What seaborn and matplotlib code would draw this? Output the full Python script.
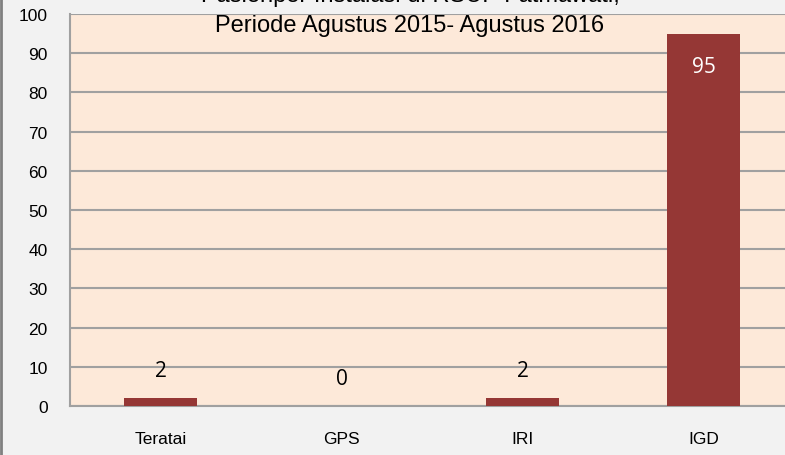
import matplotlib
matplotlib.use("Agg")
import matplotlib.pyplot as plt
import seaborn as sns
import pandas as pd

categories = ["Teratai", "GPS", "IRI", "IGD"]
values = [2, 0, 2, 95]
title_lines = ["Pasienper Instalasi di RSUP Fatmawati,", "Periode Agustus 2015- Agustus 2016"]
yticks = list(range(0, 101, 10))

sns.set_theme(style="white")
plt.rcParams['font.family'] = ['Liberation Sans', 'DejaVu Sans']

df = pd.DataFrame({"cat": categories, "val": values})

fig = plt.figure(figsize=(7.85, 4.56), dpi=100, facecolor="#f2f2f2")
ax = fig.add_axes([70/785, 49/456, 1 - 70/785, 392/456])
ax.set_facecolor("#fde9d9")
sns.barplot(data=df, x="cat", y="val", color="#953735", width=0.40, ax=ax,
            zorder=3, saturation=1, linewidth=0, edgecolor="none")
ax.set_xlim(-0.5, 3.45)
ax.set_ylim(0, 100)
ax.set_yticks(yticks)
ax.yaxis.grid(True, color="#a0a0a0", linewidth=1.5, zorder=0)
ax.set_axisbelow(True)
for s in ["top", "right"]:
    ax.spines[s].set_visible(False)
for s in ["left", "bottom"]:
    ax.spines[s].set_color("#a0a0a0")
    ax.spines[s].set_linewidth(1.5)
ax.set_xlabel("")
ax.set_ylabel("")
ax.tick_params(axis="y", length=0, pad=16, labelsize=12.5)
ax.tick_params(axis="x", length=0, pad=18, labelsize=12.5)
for lab in ax.get_yticklabels() + ax.get_xticklabels():
    lab.set_color("black")

for i, v in enumerate(values):
    if v > 50:
        ax.text(i, v - 8.5, str(v), ha="center", va="center", color="white",
                fontsize=15, family=["Open Sans", "DejaVu Sans"], zorder=5)
    else:
        ax.text(i, v + 7, str(v), ha="center", va="center", color="black",
                fontsize=15, family=["Open Sans", "DejaVu Sans"], zorder=5)

fig.text(410/785, 1 + 4/456, title_lines[0], ha="center", va="center", fontsize=17, color="black")
fig.text(410/785, 1 - 26/456, title_lines[1], ha="center", va="center", fontsize=17, color="black")

fig.add_artist(plt.Line2D([1/785, 1/785], [0, 1], color="#808080", linewidth=2))
fig.savefig("out.png", dpi=100, facecolor=fig.get_facecolor())
